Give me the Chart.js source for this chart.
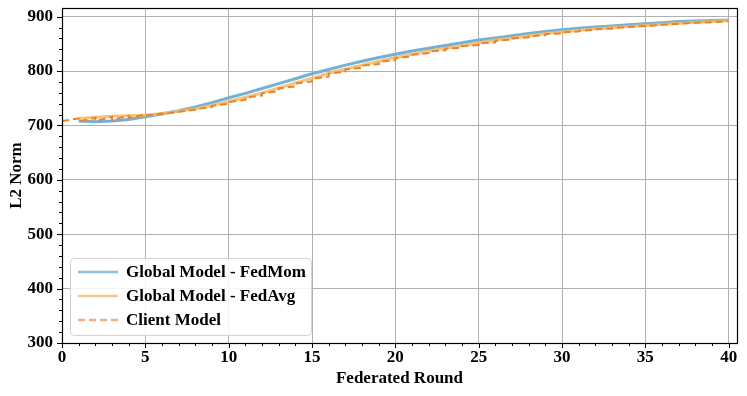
<!DOCTYPE html>
<html>
<head>
<meta charset="utf-8">
<script src="https://cdn.jsdelivr.net/npm/chart.js@4.4.0/dist/chart.umd.min.js"></script>
<style>
  html, body { margin: 0; padding: 0; background: #fff; }
  #wrap { width: 747px; height: 396px; }
</style>
</head>
<body>
<div id="wrap"><canvas id="normChart" width="747" height="396"></canvas></div>
<script>
// Rounds and values
const momRounds = [1,2,3,4,5,6,7,8,9,10,11,12,13,14,15,16,17,18,19,20,21,22,23,24,25,26,27,28,29,30,31,32,33,34,35,36,37,38,39,40];
const fedMom = [708,707,708,711,716,721,727,734,742,751,759,768,777,786,795,803,811,818,825,831,837,842,847,852,857,861,865,869,873,876,879,881,883,885,887,889,891,892,893,894];
const fedAvg = [713,715,717,718,719,722,726,731,737,744,752,760,769,778,787,796,804,811,818,825,831,837,842,847,852,857,861,865,869,872,875,878,880,882,884,886,888,890,891,893];
// client model: value at the start of each round (x = 0..39) and at its end (x = 1..40)
const clientStart = [708,707,708,710,714,718,721,725,730,736,743,751,759,768,777,786,795,803,810,817,824,830,836,841,846,851,856,860,864,868,871,874,877,879,881,883,885,887,889,890];
const clientEnd = [713,714,716,718,720,722,725,729,734,740,747,755,763,772,781,790,799,806,813,820,827,833,838,843,848,853,858,862,866,869,873,876,878,881,883,885,887,889,890,892];
const xTicks = [0,5,10,15,20,25,30,35,40];
const yTicks = [300,400,500,600,700,800,900];

const labelFont = { family: "'Liberation Serif', 'Times New Roman', serif", size: 17, weight: 'bold' };

// client curve: rises during a round, then jumps to the next start value
const clientPts = [];
for (let i = 0; i < clientEnd.length; i++) {
  clientPts.push({ x: i, y: clientStart[i] });
  clientPts.push({ x: i + 1, y: clientEnd[i] });
}

// frame, ticks (major + minor) and an inside legend like matplotlib
const axesDecor = {
  id: 'axesDecor',
  afterDatasetsDraw(chart) {
    const { ctx, chartArea: a, scales } = chart;
    const xs = scales.x, ys = scales.y;
    ctx.save();
    ctx.strokeStyle = '#000';
    ctx.lineWidth = 1;
    ctx.beginPath();
    for (let v = 0; v <= 40; v++) {
      const px = Math.round(xs.getPixelForValue(v)) + 0.5;
      const len = v % 5 === 0 ? 5 : 3;
      ctx.moveTo(px, a.bottom); ctx.lineTo(px, a.bottom + len);
    }
    for (let v = 300; v <= 900; v += 20) {
      const py = Math.round(ys.getPixelForValue(v)) + 0.5;
      const len = v % 100 === 0 ? 5 : 3;
      ctx.moveTo(a.left, py); ctx.lineTo(a.left - len, py);
    }
    ctx.stroke();
    ctx.lineWidth = 1.2;
    ctx.strokeRect(a.left + 0.5, a.top + 0.5, a.right - a.left, a.bottom - a.top);

    // legend box
    const bx = 70, by = 258, bw = 241, bh = 77;
    ctx.fillStyle = 'rgba(255,255,255,0.85)';
    ctx.strokeStyle = '#d4d4d4';
    ctx.lineWidth = 1;
    ctx.beginPath();
    ctx.roundRect(bx + 0.5, by + 0.5, bw, bh, 4);
    ctx.fill();
    ctx.stroke();
    ctx.font = "bold 17px 'Liberation Serif', serif";
    ctx.textBaseline = 'middle';
    chart.data.datasets.forEach((ds, i) => {
      const y = by + 14 + i * 24;
      ctx.strokeStyle = ds.legendColor;
      ctx.lineWidth = 2.5;
      ctx.setLineDash(ds.borderDash || []);
      ctx.beginPath();
      ctx.moveTo(bx + 8, y); ctx.lineTo(bx + 48, y);
      ctx.stroke();
      ctx.setLineDash([]);
      ctx.fillStyle = '#000';
      ctx.fillText(ds.label, bx + 56, y + 1);
    });
    ctx.restore();
  }
};

new Chart(document.getElementById('normChart'), {
  type: 'line',
  data: {
    datasets: [
      {
        label: 'Global Model - FedMom',
        data: momRounds.map((r, i) => ({ x: r, y: fedMom[i] })),
        borderColor: '#72b0d8',
        legendColor: '#8fc0df',
        borderWidth: 3,
        pointRadius: 0,
        tension: 0,
        order: 2
      },
      {
        label: 'Global Model - FedAvg',
        data: momRounds.map((r, i) => ({ x: r, y: fedAvg[i] })),
        borderColor: 'rgba(245,185,95,0.85)',
        legendColor: '#f3c88a',
        borderWidth: 3,
        pointRadius: 0,
        tension: 0,
        order: 1
      },
      {
        label: 'Client Model',
        data: clientPts,
        borderColor: '#e8842f',
        legendColor: '#f0ad80',
        borderWidth: 2,
        borderDash: [7, 4],
        pointRadius: 0,
        tension: 0,
        order: 0
      }
    ]
  },
  options: {
    responsive: false,
    animation: false,
    events: [],
    layout: { padding: { top: 8, right: 10, left: 0, bottom: 7 } },
    plugins: { legend: { display: false }, tooltip: { enabled: false } },
    scales: {
      x: {
        type: 'linear',
        min: 0,
        max: 40.5,
        afterBuildTicks: s => { s.ticks = xTicks.map(v => ({ value: v })); },
        afterFit: s => { s.height = 46; s.paddingLeft = 0; s.paddingRight = 0; },
        grid: { color: '#b0b0b0', lineWidth: 1, drawTicks: false },
        border: { display: false },
        ticks: { color: '#000', font: labelFont, padding: 4, maxRotation: 0 },
        title: { display: true, text: 'Federated Round', color: '#000', font: labelFont, padding: { top: 0, bottom: 0 } }
      },
      y: {
        type: 'linear',
        min: 300,
        max: 916,
        afterBuildTicks: s => { s.ticks = yTicks.map(v => ({ value: v })); },
        afterFit: s => { s.width = 62; s.paddingTop = 0; s.paddingBottom = 0; },
        grid: { color: '#b0b0b0', lineWidth: 1, drawTicks: false },
        border: { display: false },
        ticks: { color: '#000', font: labelFont, padding: 9 },
        title: { display: true, text: 'L2 Norm', color: '#000', font: labelFont, padding: { top: 6, bottom: 0 } }
      }
    }
  },
  plugins: [axesDecor]
});
</script>
</body>
</html>
